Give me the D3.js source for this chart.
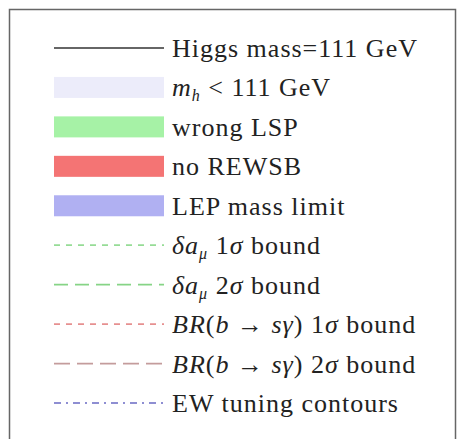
<!DOCTYPE html>
<html><head><meta charset="utf-8">
<script src="https://cdn.jsdelivr.net/npm/d3@7"></script>
<style>html,body{margin:0;padding:0;background:#fff;}</style>
</head><body>
<svg id="c" width="460" height="439"></svg>
<script>
const keys = ["higgs","mh","lsp","rewsb","lep","da1","da2","bsg1","bsg2","ew"];
const kinds = ["line","rect","rect","rect","rect","line","line","line","line","line"];
const colors = ["#333333","#ececfa","#a6f2a6","#f47474","#b0b0f2","#96dc96","#86d486","#e69090","#c49c9c","#6a6ac4"];
const dashes = [null,null,null,null,null,"6,6","14,7","6,6","16,7","7,5,2,5"];
const labels = [
  [{t:"Higgs mass=111 GeV"}],
  [{t:"m",i:1},{t:"h",i:1,sub:1},{t:" < 111 GeV"}],
  [{t:"wrong LSP"}],
  [{t:"no REWSB"}],
  [{t:"LEP mass limit"}],
  [{t:"δa",i:1},{t:"μ",i:1,sub:1},{t:" 1"},{t:"σ",i:1},{t:" bound"}],
  [{t:"δa",i:1},{t:"μ",i:1,sub:1},{t:" 2"},{t:"σ",i:1},{t:" bound"}],
  [{t:"BR",i:1},{t:"("},{t:"b",i:1},{t:" → "},{t:"sγ",i:1},{t:") 1"},{t:"σ",i:1},{t:" bound"}],
  [{t:"BR",i:1},{t:"("},{t:"b",i:1},{t:" → "},{t:"sγ",i:1},{t:") 2"},{t:"σ",i:1},{t:" bound"}],
  [{t:"EW tuning contours"}]
];

const svg = d3.select("#c");
svg.append("rect").attr("x",9.5).attr("y",9.5).attr("width",446).attr("height",440)
  .attr("fill","#fff").attr("stroke","#666").attr("stroke-width",1.5);

const y = d3.scalePoint().domain(keys).range([48,403]);
const x0 = 54, x1 = 164, tx = 172;

const g = svg.selectAll("g.row").data(keys).join("g").attr("class","row")
  .attr("transform", d => `translate(0,${y(d)})`);

g.each(function(d,i){
  const s = d3.select(this);
  if (kinds[i]==="rect") {
    s.append("rect").attr("x",x0).attr("y",-10.5).attr("width",x1-x0).attr("height",21).attr("fill",colors[i]);
  } else {
    s.append("line").attr("x1",x0).attr("x2",x1).attr("y1",0).attr("y2",0)
      .attr("stroke",colors[i]).attr("stroke-width",1.7)
      .attr("stroke-dasharray", dashes[i]);
  }
  const t = s.append("text").attr("x",tx).attr("y",9)
    .attr("font-family","'Liberation Serif', serif").attr("font-size",26)
    .attr("letter-spacing",1).attr("fill","#222");
  labels[i].forEach((p,k)=>{
    const ts = t.append("tspan").text(p.t);
    if (p.i) ts.attr("font-style","italic");
    if (p.sub) ts.attr("font-size",16).attr("dy",5);
    else if (k>0 && labels[i][k-1].sub) ts.attr("dy",-5);
  });
});
</script>
</body></html>
